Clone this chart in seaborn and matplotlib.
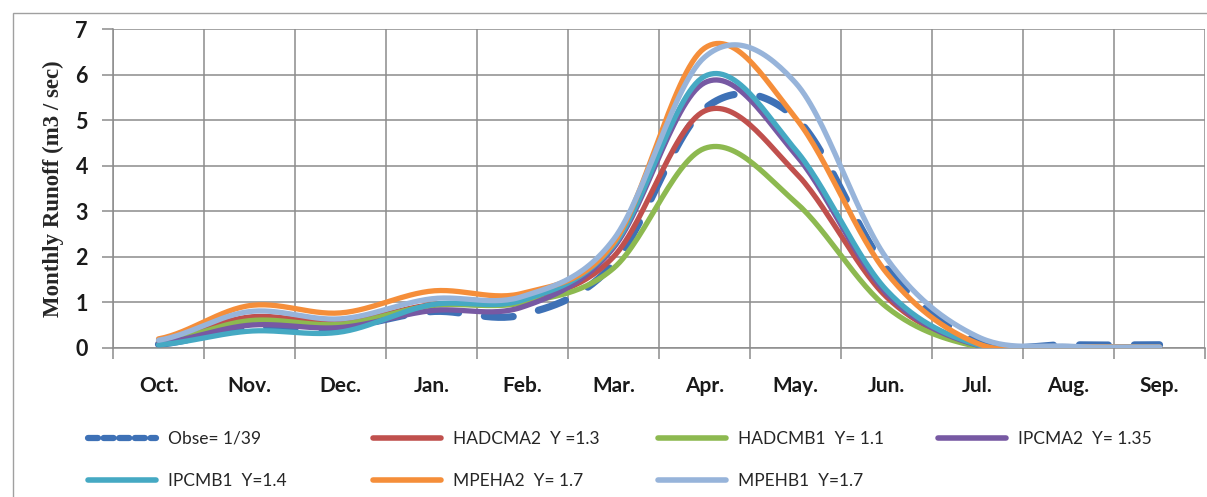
import numpy as np
import pandas as pd
import matplotlib
matplotlib.use("Agg")
import matplotlib.pyplot as plt
import seaborn as sns
from matplotlib.lines import Line2D
from matplotlib.patches import Rectangle

# ---------------- data ----------------
months = ['Oct.', 'Nov.', 'Dec.', 'Jan.', 'Feb.', 'Mar.', 'Apr.', 'May.', 'Jun.', 'Jul.', 'Aug.', 'Sep.']
obse    = [0.08, 0.45, 0.45, 0.80, 0.73, 1.85, 5.25, 5.05, 1.75, 0.15, 0.07, 0.07]
hadcma2 = [0.14, 0.68, 0.56, 0.95, 1.02, 2.00, 5.20, 3.85, 1.12, 0.05, 0.03, 0.02]
hadcmb1 = [0.12, 0.60, 0.52, 0.93, 0.99, 1.75, 4.38, 3.20, 0.90, 0.03, 0.03, 0.02]
ipcma2  = [0.10, 0.50, 0.45, 0.82, 0.90, 2.20, 5.82, 4.25, 1.20, 0.06, 0.03, 0.02]
ipcmb1  = [0.07, 0.37, 0.35, 0.95, 1.05, 2.25, 5.96, 4.35, 1.27, 0.07, 0.03, 0.02]
mpeha2  = [0.20, 0.93, 0.77, 1.25, 1.20, 2.30, 6.58, 5.05, 1.65, 0.10, 0.03, 0.02]
mpehb1  = [0.17, 0.80, 0.64, 1.08, 1.13, 2.38, 6.38, 5.82, 1.97, 0.25, 0.04, 0.02]

labels = ['Obse= 1/39', 'HADCMA2  Y =1.3', 'HADCMB1  Y= 1.1', 'IPCMA2  Y= 1.35',
          'IPCMB1  Y=1.4', 'MPEHA2  Y= 1.7', 'MPEHB1  Y=1.7']
series = [obse, hadcma2, hadcmb1, ipcma2, ipcmb1, mpeha2, mpehb1]
colors = ['#3E71B6', '#C0504D', '#8DB950', '#7759A3', '#45A9C3', '#F58E3A', '#97B4DA']

ylabel = 'Monthly Runoff (m3 / sec)'
yticks = [0, 1, 2, 3, 4, 5, 6, 7]


def smooth(vals, n=30):
    """Catmull-Rom smoothing (like Excel's 'smoothed line') through the data points."""
    y = np.asarray(vals, float)
    p = np.concatenate([[y[0]], y, [y[-1]]])
    xs, ys = [], []
    for i in range(len(y) - 1):
        p0, p1, p2, p3 = p[i], p[i + 1], p[i + 2], p[i + 3]
        m1 = (p2 - p0) / 2.0
        m2 = (p3 - p1) / 2.0
        t = np.linspace(0, 1, n, endpoint=(i == len(y) - 2))
        h00 = 2 * t**3 - 3 * t**2 + 1
        h10 = t**3 - 2 * t**2 + t
        h01 = -2 * t**3 + 3 * t**2
        h11 = t**3 - t**2
        xs.append(i + t)
        ys.append(h00 * p1 + h10 * m1 + h01 * p2 + h11 * m2)
    return np.concatenate(xs), np.concatenate(ys)


# ---------------- figure ----------------
sns.set_theme(style='white')
plt.rcParams['font.family'] = ['Lato', 'DejaVu Sans']

W, H = 1207, 497
fig = plt.figure(figsize=(W / 100, H / 100), dpi=100)
fig.patch.set_facecolor('white')
ax = fig.add_axes([113 / W, 1 - 348 / H, (1205 - 113) / W, (348 - 29) / H])

grid_c = '#8c8c8c'

for k, (lab, vals, col) in enumerate(zip(labels, series, colors)):
    xs, ys = smooth(vals)
    df = pd.DataFrame({'x': xs, 'y': ys})
    if k == 0:
        sns.lineplot(data=df, x='x', y='y', ax=ax, color=col, lw=5.2, sort=False,
                     estimator=None, dashes=False, zorder=2)
        ln = ax.lines[-1]
        ln.set_dashes((4.0, 3.6))
        ln.set_dash_capstyle('round')
    else:
        sns.lineplot(data=df, x='x', y='y', ax=ax, color=col, lw=3.8, sort=False,
                     estimator=None, zorder=2 + k)
        ax.lines[-1].set_solid_capstyle('round')

ax.set_xlim(-0.5, 11.5)
ax.set_ylim(0, 7)
ax.set_xlabel('')
ax.set_ylabel(ylabel, family='Liberation Serif', fontweight='bold', fontsize=16.5, labelpad=8)

# grid at category boundaries, labels at centres
ax.set_xticks(np.arange(-0.5, 12, 1))
ax.set_xticklabels([])
ax.set_xticks(np.arange(12), minor=True)
ax.set_xticklabels(months, minor=True, fontweight='bold', fontsize=15, color='#1a1a1a')
ax.tick_params(axis='x', which='major', length=8, width=1.1, color=grid_c, direction='out', bottom=True)
ax.tick_params(axis='x', which='minor', length=0, pad=20)
ax.set_yticks(yticks)
ax.set_yticklabels([str(v) for v in yticks], fontweight='bold', fontsize=15.5, color='#1a1a1a')
ax.tick_params(axis='y', length=8, width=1.1, color=grid_c, direction='out', left=True, pad=10)

ax.grid(True, which='major', color=grid_c, lw=1.1)
ax.grid(False, which='minor')
ax.set_axisbelow(True)
for s in ['top', 'right']:
    ax.spines[s].set_visible(False)
for s in ['left', 'bottom']:
    ax.spines[s].set_color(grid_c)
    ax.spines[s].set_linewidth(1.1)

# outer chart border
fig.add_artist(Rectangle((13 / W, -0.02), 1.0, 1 - 13 / H + 0.02, transform=fig.transFigure,
                         fill=False, edgecolor='#a0a0a0', lw=1.0))

# ---------------- legend: 4 columns, 2 rows ----------------
def handle(i):
    if i == 0:
        return Line2D([], [], color=colors[0], lw=4.5, dashes=(1.6, 0.9), dash_capstyle='round')
    return Line2D([], [], color=colors[i], lw=4.0)

col_items = [[0, 4], [1, 5], [2, 6], [3]]
col_x = [88, 373, 658, 938]
for items, x0 in zip(col_items, col_x):
    fig.legend([handle(i) for i in items], [labels[i] for i in items],
               loc='upper left', bbox_to_anchor=(x0 / W, 1 - 431 / H),
               frameon=False, borderpad=0, borderaxespad=0, handlelength=3.9,
               handletextpad=0.7, labelspacing=1.5,
               prop={'family': ['Lato', 'DejaVu Sans'], 'size': 12.5})

fig.savefig('out.png', dpi=100, facecolor='white')
